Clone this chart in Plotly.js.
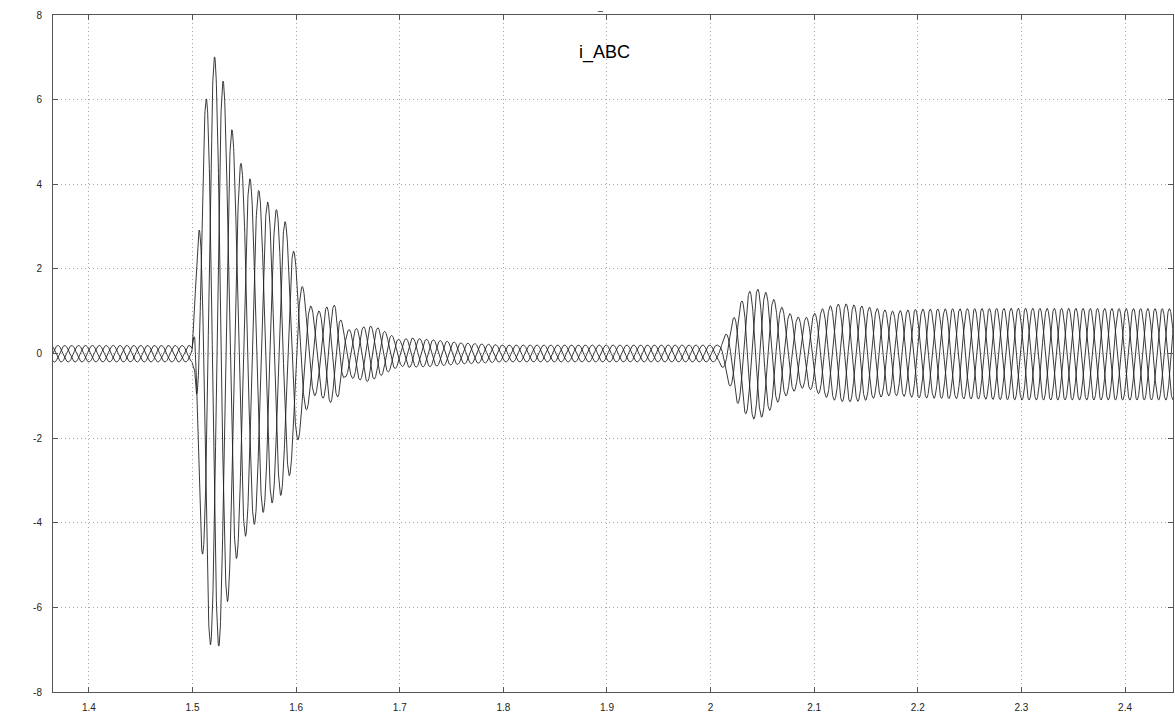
<!DOCTYPE html>
<html><head><meta charset="utf-8">
<script src="https://cdn.plot.ly/plotly-3.0.1.min.js"></script>
<style>html,body{margin:0;padding:0;background:#fff}</style>
</head><body>
<div id="chart" style="width:1175px;height:718px"></div>
<script>
// Envelope readings (time s, current)
const upperT = [1.365,1.4995,1.504,1.510,1.518,1.526,1.5345,1.543,1.5525,1.562,1.571,1.580,1.5885,1.5966,1.6037,1.610,1.617,1.623,1.630,1.638,1.647,1.660,1.670,1.680,1.700,1.710,1.730,1.760,1.800,2.008,2.0122,2.0187,2.0252,2.0332,2.0406,2.0484,2.0557,2.0638,2.0719,2.0798,2.0879,2.0960,2.1040,2.1121,2.1201,2.1281,2.1442,2.1522,2.1683,2.1764,2.20,2.30,2.45];
const upperV = [0.19,0.19,2.1,5.4,7.05,6.95,5.75,4.68,4.22,3.92,3.61,3.43,3.19,2.55,1.79,1.27,1.03,1.0,1.11,1.15,0.55,0.6,0.66,0.6,0.32,0.37,0.33,0.25,0.2,0.2,0.36,0.64,1.03,1.39,1.52,1.52,1.41,1.21,1.02,0.89,0.84,0.87,1.02,1.10,1.16,1.18,1.13,1.10,1.03,1.0,1.05,1.07,1.06];
const lowerT = [1.365,1.4995,1.502,1.507,1.514,1.5216,1.5296,1.5387,1.5477,1.5573,1.5667,1.5757,1.5844,1.5928,1.6005,1.6075,1.614,1.620,1.628,1.635,1.641,1.647,1.670,1.700,1.710,1.730,1.760,1.800,2.008,2.0122,2.0187,2.0268,2.0364,2.0445,2.0525,2.0605,2.0686,2.0766,2.0847,2.0927,2.1008,2.1088,2.1185,2.1281,2.1378,2.1474,2.157,2.1667,2.1764,2.20,2.30,2.45];
const lowerV = [-0.2,-0.2,-0.5,-3.96,-6.6,-7.3,-6.5,-5.15,-4.43,-4.12,-3.80,-3.55,-3.40,-2.97,-2.20,-1.50,-1.10,-0.95,-1.10,-1.18,-1.0,-0.55,-0.67,-0.30,-0.33,-0.31,-0.25,-0.2,-0.2,-0.39,-0.79,-1.22,-1.50,-1.58,-1.46,-1.26,-1.06,-0.95,-0.83,-0.81,-0.91,-1.01,-1.10,-1.14,-1.14,-1.12,-1.06,-1.02,-0.99,-1.05,-1.10,-1.10];
// Carrier frequency readings (Hz) from peak spacing in the picture
const freqT = [1.365,1.4995,1.501,1.600,1.620,1.700,2.000,2.010,2.100,2.200,2.300,2.450];
const freqV = [50,50,39,39,45,50,50,42,43,46,48,48];
const phaseNames = ['i_A','i_B','i_C'];
const xTicks = [1.4,1.5,1.6,1.7,1.8,1.9,2.0,2.1,2.2,2.3,2.4];
const xTickText = ['1.4','1.5','1.6','1.7','1.8','1.9','2','2.1','2.2','2.3','2.4'];
const yTicks = [-8,-6,-4,-2,0,2,4,6,8];
const yTickText = ['-8','-6','-4','-2','0','2','4','6','8'];

function interp(ts, vs, t){
  if(t<=ts[0]) return vs[0];
  for(let i=1;i<ts.length;i++){
    if(t<=ts[i]){const a=(t-ts[i-1])/(ts[i]-ts[i-1]);return vs[i-1]+a*(vs[i]-vs[i-1]);}
  }
  return vs[vs.length-1];
}
const dt=0.0002, t0=1.365, t1=2.4465;
const tt=[]; const th=[];
let theta=0;
for(let t=t0;t<=t1+1e-9;t+=dt){tt.push(t);th.push(theta);theta+=2*Math.PI*interp(freqT,freqV,t)*dt;}
const traces=phaseNames.map((nm,k)=>{
  const y=tt.map((t,i)=>{
    const u=interp(upperT,upperV,t), l=interp(lowerT,lowerV,t);
    return (u+l)/2+(u-l)/2*Math.sin(th[i]-2*Math.PI*k/3);
  });
  return {x:tt,y:y,type:'scatter',mode:'lines',name:nm,line:{color:'#222',width:0.9},hoverinfo:'skip'};
});
const axisCommon={showline:true,linecolor:'#555',linewidth:1,mirror:'allticks',ticks:'inside',ticklen:5,tickcolor:'#555',
  showgrid:true,gridcolor:'#a8a8a8',griddash:'1px,3px',gridwidth:1,zeroline:false,
  tickfont:{family:'Liberation Sans, Arial, sans-serif',size:10,color:'#222'}};
const layout={
  width:1175,height:718,margin:{l:53,r:2,t:15,b:26},
  paper_bgcolor:'#fff',plot_bgcolor:'#fff',showlegend:false,
  xaxis:Object.assign({},axisCommon,{range:[1.3653,2.4463],tickvals:xTicks,ticktext:xTickText,ticklabelstandoff:6}),
  yaxis:Object.assign({},axisCommon,{range:[-8,8],tickvals:yTicks,ticktext:yTickText,ticklabelstandoff:8}),
  annotations:[
    {text:'i_ABC',xref:'paper',yref:'paper',x:0.4925,y:0.945,xanchor:'center',yanchor:'middle',showarrow:false,font:{family:'Liberation Sans, Arial, sans-serif',size:18,color:'#000'}},
    {text:'_',xref:'paper',yref:'paper',x:0.4885,y:1.0,xanchor:'center',yanchor:'top',yshift:15,showarrow:false,font:{family:'Liberation Sans, Arial, sans-serif',size:9,color:'#000'}}
  ]
};
Plotly.newPlot('chart',traces,layout,{displayModeBar:false,staticPlot:true});
</script>
</body></html>
